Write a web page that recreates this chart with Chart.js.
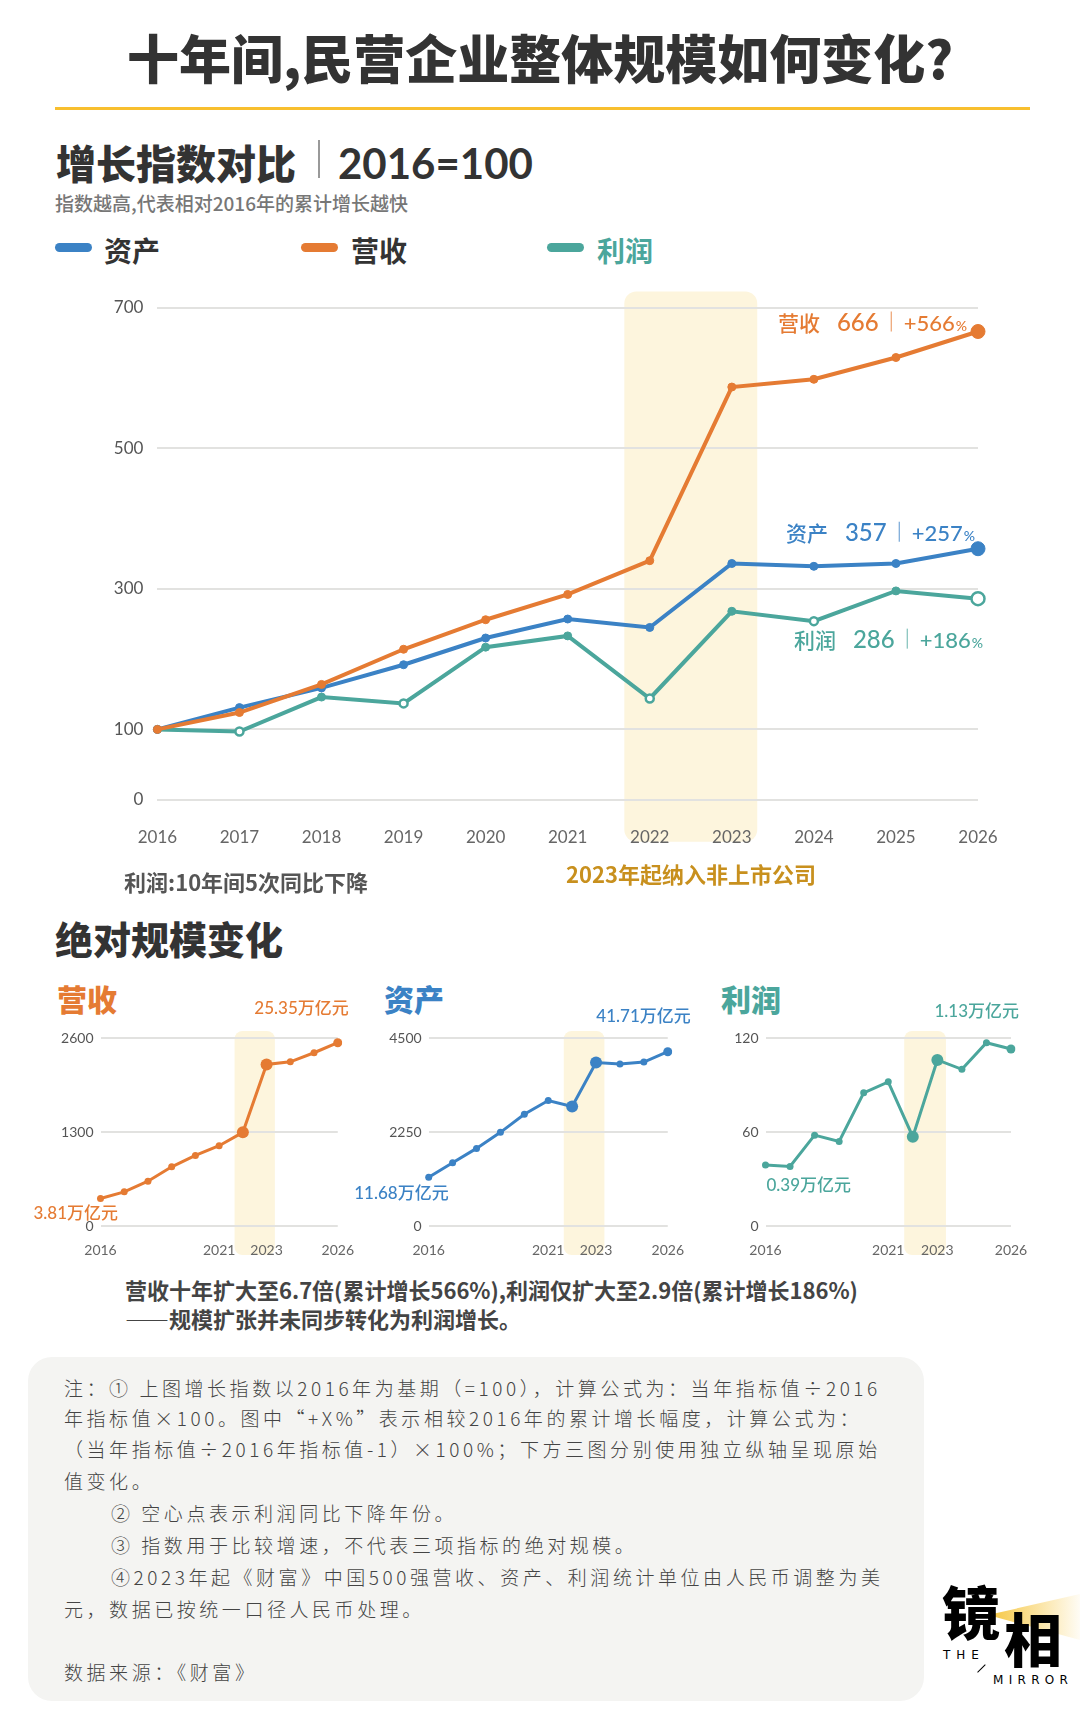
<!DOCTYPE html>
<html lang="zh-CN">
<head>
<meta charset="utf-8">
<script src="https://cdn.jsdelivr.net/npm/chart.js@4.4.1/dist/chart.umd.min.js"></script>
<style>
body{margin:0;background:#fff;}
#page{position:relative;width:1080px;height:1712px;overflow:hidden;font-family:"Noto Sans CJK SC",sans-serif;color:#333;}
.t{position:absolute;white-space:nowrap;line-height:1;}
canvas{position:absolute;}
.pill{position:absolute;top:243px;width:37px;height:9px;border-radius:5px;}
.note{position:absolute;left:64px;white-space:nowrap;font-size:19px;line-height:1;font-weight:300;letter-spacing:3.55px;color:#444;}
</style>
</head>
<body>
<div id="page">
  <div class="t" style="left:0;width:1080px;text-align:center;top:31px;font-size:52px;font-weight:900;">十年间,民营企业整体规模如何变化?</div>
  <div style="position:absolute;left:55px;top:107px;width:975px;height:3px;background:#F8BF2F;"></div>

  <div class="t" style="left:56px;top:142px;font-size:40px;font-weight:900;">增长指数对比</div>
  <div style="position:absolute;left:318px;top:140px;width:1.5px;height:38px;background:#999;"></div>
  <div class="t" style="left:338px;top:142px;font-size:42px;font-weight:700;font-family:Lato,sans-serif;">2016=100</div>
  <div class="t" style="left:55px;top:193px;font-size:19px;font-weight:500;color:#777;">指数越高,代表相对2016年的累计增长越快</div>

  <div class="pill" style="left:55px;background:#3B82C5;"></div>
  <div class="t" style="left:104px;top:236px;font-size:28px;font-weight:700;">资产</div>
  <div class="pill" style="left:301px;background:#E57B33;"></div>
  <div class="t" style="left:351px;top:236px;font-size:28px;font-weight:700;">营收</div>
  <div class="pill" style="left:547px;background:#4BA69C;"></div>
  <div class="t" style="left:597px;top:236px;font-size:28px;font-weight:700;color:#4BA69C;">利润</div>

  <canvas id="indexChart" width="1080" height="600" style="left:0;top:270px;"></canvas>

  <div class="t" style="left:124px;top:870px;font-size:22px;font-weight:700;color:#555;">利润:10年间5次同比下降</div>
  <div class="t" style="left:566px;top:862px;font-size:22px;font-weight:700;color:#C8901E;">2023年起纳入非上市公司</div>

  <div class="t" style="left:55px;top:919px;font-size:38px;font-weight:900;">绝对规模变化</div>
  <div class="t" style="left:57px;top:983px;font-size:30px;font-weight:900;color:#E57B33;">营收</div>
  <div class="t" style="left:384px;top:983px;font-size:30px;font-weight:900;color:#3B82C5;">资产</div>
  <div class="t" style="left:721px;top:983px;font-size:30px;font-weight:900;color:#4BA69C;">利润</div>

  <canvas id="revChart" width="370" height="270" style="left:0;top:1000px;"></canvas>
  <canvas id="assetChart" width="370" height="270" style="left:330px;top:1000px;"></canvas>
  <canvas id="profitChart" width="415" height="270" style="left:665px;top:1000px;"></canvas>

  <div class="t" style="left:125px;top:1278px;font-size:22px;font-weight:700;color:#444;">营收十年扩大至6.7倍(累计增长566%),利润仅扩大至2.9倍(累计增长186%)</div>
  <div class="t" style="left:125px;top:1307px;font-size:22px;font-weight:700;color:#444;">——规模扩张并未同步转化为利润增长。</div>

  <div style="position:absolute;left:28px;top:1357px;width:896px;height:344px;border-radius:24px;background:#F4F4F2;"></div>
  <div class="note" style="top:1378px;">注：① 上图增长指数以2016年为基期（=100），计算公式为：当年指标值÷2016</div>
  <div class="note" style="top:1408px;">年指标值×100。图中“+X%”表示相较2016年的累计增长幅度，计算公式为：</div>
  <div class="note" style="top:1439px;">（当年指标值÷2016年指标值-1）×100%；下方三图分别使用独立纵轴呈现原始</div>
  <div class="note" style="top:1471px;">值变化。</div>
  <div class="note" style="top:1503px;left:111px;">② 空心点表示利润同比下降年份。</div>
  <div class="note" style="top:1535px;left:111px;">③ 指数用于比较增速，不代表三项指标的绝对规模。</div>
  <div class="note" style="top:1567px;left:111px;">④2023年起《财富》中国500强营收、资产、利润统计单位由人民币调整为美</div>
  <div class="note" style="top:1599px;">元，数据已按统一口径人民币处理。</div>
  <div class="note" style="top:1662px;">数据来源：《财富》</div>

  <div style="position:absolute;left:988px;top:1594px;width:92px;height:48px;background:linear-gradient(90deg,#F6C63E,rgba(253,236,190,0.15));clip-path:polygon(0 21px,92px 0,92px 46px);"></div>
  <div class="t" style="left:942px;top:1581px;font-size:58px;font-weight:900;color:#000;">镜</div>
  <div class="t" style="left:1004px;top:1608px;font-size:58px;font-weight:900;color:#000;">相</div>
  <div class="t" style="left:943px;top:1649px;font-size:12px;letter-spacing:6px;font-family:'DejaVu Sans',sans-serif;color:#000;">THE</div>
  <div style="position:absolute;left:976px;top:1668px;width:11px;height:1.2px;background:#000;transform:rotate(-45deg);"></div>
  <div class="t" style="left:993px;top:1674px;font-size:12px;letter-spacing:5.3px;font-family:'DejaVu Sans',sans-serif;color:#000;">MIRROR</div>
</div>

<script>
// 增长指数 (2016 = 100)
var years = ['2016','2017','2018','2019','2020','2021','2022','2023','2024','2025','2026'];
var revenueIndex = [100,124,164,214,256,292,340,587,598,629,666];
var assetIndex   = [100,131,159,192,230,257,245,336,332,336,357];
var profitIndex  = [100,97,146,137,217,233,144,268,254,297,286];
var indexTicks = [0,100,300,500,700];

// 绝对规模 (百亿元)
var revenueAbs = [381,472,620,819,976,1110,1295,2234,2271,2396,2535];
var assetAbs   = [1168,1513,1858,2242,2674,3003,2859,3915,3875,3924,4171];
var profitAbs  = [39,38,58,54,85,92,57,106,100,117,113];
var smallYearLabels = ['2016','2021','2023','2026'];

var ORANGE = '#E57B33', BLUE = '#3B82C5', TEAL = '#4BA69C';
var BAND = '#FDF5DD', GRID = '#E2E2E0';

Chart.defaults.animation = false;
Chart.defaults.devicePixelRatio = 1;

var bandPlugin = {
  id: 'band',
  beforeDraw: function(chart, args, o) {
    var x = chart.scales.x, ctx = chart.ctx;
    var a = x.getPixelForValue(6), b = x.getPixelForValue(7), w = b - a;
    var top = chart.chartArea.top - o.above, bottom = chart.chartArea.bottom + o.below;
    ctx.save();
    ctx.fillStyle = BAND;
    ctx.beginPath();
    ctx.roundRect(a - w * o.pad, top, w * (1 + 2 * o.pad), bottom - top, o.r);
    ctx.fill();
    ctx.restore();
  }
};

// end labels of the index chart: 名称 值 | +涨幅%
var endLabels = {
  id: 'endLabels',
  afterDatasetsDraw: function(chart, args, o) {
    var ctx = chart.ctx;
    o.items.forEach(function(it) {
      var ds = chart.data.datasets[it.ds];
      var meta = chart.getDatasetMeta(it.ds);
      var p = meta.data[meta.data.length - 1];
      var v = ds.data[ds.data.length - 1];
      var parts = [
        {t: ds.label, f: '500 21px "Noto Sans CJK SC"', gap: 17},
        {t: String(v), f: '500 24px Lato', gap: 12, sep: true},
        {t: '+' + (v - 100), f: '500 22px Lato', gap: 1},
        {t: '%', f: '500 14px Lato', gap: 0}
      ];
      var total = 0;
      parts.forEach(function(s) {
        ctx.font = s.f;
        s.w = ctx.measureText(s.t).width;
        total += s.w + s.gap + (s.sep ? 13 : 0);
      });
      var x = p.x + it.dx - total, base = p.y + it.dy + 8;
      ctx.save();
      ctx.fillStyle = ds.borderColor;
      ctx.textBaseline = 'alphabetic';
      parts.forEach(function(s) {
        ctx.font = s.f;
        ctx.fillText(s.t, x, base);
        x += s.w + s.gap;
        if (s.sep) {
          ctx.globalAlpha = 0.7;
          ctx.fillRect(x, base - 19, 1.2, 20);
          ctx.globalAlpha = 1;
          x += 13;
        }
      });
      ctx.restore();
    });
  }
};

var pointLabels = {
  id: 'pointLabels',
  afterDatasetsDraw: function(chart, args, o) {
    var ctx = chart.ctx, ds = chart.data.datasets[0];
    var meta = chart.getDatasetMeta(0);
    ctx.save();
    ctx.fillStyle = ds.borderColor;
    ctx.font = '500 17px Lato, "Noto Sans CJK SC"';
    ctx.textBaseline = 'middle';
    o.items.forEach(function(it) {
      var p = meta.data[it.i];
      var txt = (ds.data[it.i] / 100).toFixed(2) + '万亿元';
      ctx.textAlign = it.align;
      ctx.fillText(txt, p.x + it.dx, p.y + it.dy);
    });
    ctx.restore();
  }
};

function hollow(arr, fill) {
  return arr.map(function(v, i) { return i > 0 && v < arr[i - 1] ? '#fff' : fill; });
}

var idxPointR = years.map(function(y, i) { return i === years.length - 1 ? 7 : 4; });

new Chart(document.getElementById('indexChart'), {
  type: 'line',
  data: {
    labels: years,
    datasets: [
      {label: '营收', data: revenueIndex, borderColor: ORANGE, backgroundColor: ORANGE,
       pointBackgroundColor: ORANGE, pointBorderColor: ORANGE, borderWidth: 4,
       pointRadius: idxPointR, pointBorderWidth: 1, tension: 0},
      {label: '资产', data: assetIndex, borderColor: BLUE, backgroundColor: BLUE,
       pointBackgroundColor: BLUE, pointBorderColor: BLUE, borderWidth: 4,
       pointRadius: idxPointR, pointBorderWidth: 1, tension: 0},
      {label: '利润', data: profitIndex, borderColor: TEAL, backgroundColor: TEAL,
       pointBackgroundColor: hollow(profitIndex, TEAL), pointBorderColor: TEAL, borderWidth: 4,
       pointRadius: years.map(function(y, i) { return i === years.length - 1 ? 6.5 : 4; }),
       pointBorderWidth: profitIndex.map(function(v, i) { return i > 0 && v < profitIndex[i - 1] ? 2.5 : 1; }),
       tension: 0}
    ]
  },
  options: {
    responsive: false,
    layout: {padding: {left: 0, right: 102, top: 37.6, bottom: 0}},
    plugins: {
      legend: {display: false}, tooltip: {enabled: false},
      band: {pad: 0.31, above: 16, below: 42, r: 12},
      endLabels: {items: [{ds: 0, dx: -11, dy: -9}, {ds: 1, dx: -3, dy: -16}, {ds: 2, dx: 5, dy: 41}]}
    },
    scales: {
      x: {
        offset: false,
        grid: {display: false, drawTicks: false}, border: {display: false},
        ticks: {padding: 28, color: '#666', font: {family: 'Lato', size: 17}, maxRotation: 0, autoSkip: false},
        afterFit: function(s) { s.height = 70.3; }
      },
      y: {
        min: 0, max: 700,
        afterBuildTicks: function(s) { s.ticks = indexTicks.map(function(v) { return {value: v}; }); },
        grid: {color: GRID, lineWidth: 2, drawTicks: false}, border: {display: false},
        ticks: {padding: 14, color: '#555', font: {family: 'Lato', size: 17}},
        afterFit: function(s) { s.width = 157.4; }
      }
    }
  },
  plugins: [bandPlugin, endLabels]
});

function smallChart(id, values, color, max, yWidth, rightPad, labelItems) {
  var radius = values.map(function(v, i) { return (i === 6 || i === 7) ? 6 : (i === values.length - 1 ? 4.5 : 3.5); });
  return new Chart(document.getElementById(id), {
    type: 'line',
    data: {
      labels: years,
      datasets: [{data: values, borderColor: color, backgroundColor: color, pointBackgroundColor: color,
        pointBorderColor: color, pointBorderWidth: 0, borderWidth: 3, pointRadius: radius, tension: 0}]
    },
    options: {
      responsive: false,
      layout: {padding: {left: 0, right: rightPad, top: 38, bottom: 0}},
      plugins: {
        legend: {display: false}, tooltip: {enabled: false},
        band: {pad: 0.35, above: 7, below: 29, r: 8},
        pointLabels: {items: labelItems}
      },
      scales: {
        x: {
          offset: false,
          grid: {display: false, drawTicks: false}, border: {display: false},
          ticks: {padding: 16, color: '#666', font: {family: 'Lato', size: 14}, maxRotation: 0, autoSkip: false,
            callback: function(v) { var l = this.getLabelForValue(v); return smallYearLabels.indexOf(l) >= 0 ? l : ''; }},
          afterFit: function(s) { s.height = 44; }
        },
        y: {
          min: 0, max: max,
          ticks: {stepSize: max / 2, padding: 7, color: '#555', font: {family: 'Lato', size: 14},
            callback: function(v) { return String(v); }},
          grid: {color: GRID, lineWidth: 2, drawTicks: false}, border: {display: false},
          afterFit: function(s) { s.width = yWidth; }
        }
      }
    },
    plugins: [bandPlugin, pointLabels]
  });
}

smallChart('revChart', revenueAbs, ORANGE, 2600, 100.5, 24.6,
  [{i: 0, align: 'left', dx: -67, dy: 15}, {i: 10, align: 'right', dx: 11, dy: -34}]);
smallChart('assetChart', assetAbs, BLUE, 4500, 98.7, 26.4,
  [{i: 0, align: 'right', dx: 20, dy: 16}, {i: 10, align: 'right', dx: 23, dy: -35}]);
smallChart('profitChart', profitAbs, TEAL, 120, 100.5, 69,
  [{i: 0, align: 'left', dx: 1, dy: 21}, {i: 10, align: 'right', dx: 8, dy: -37}]);
</script>
</body>
</html>
